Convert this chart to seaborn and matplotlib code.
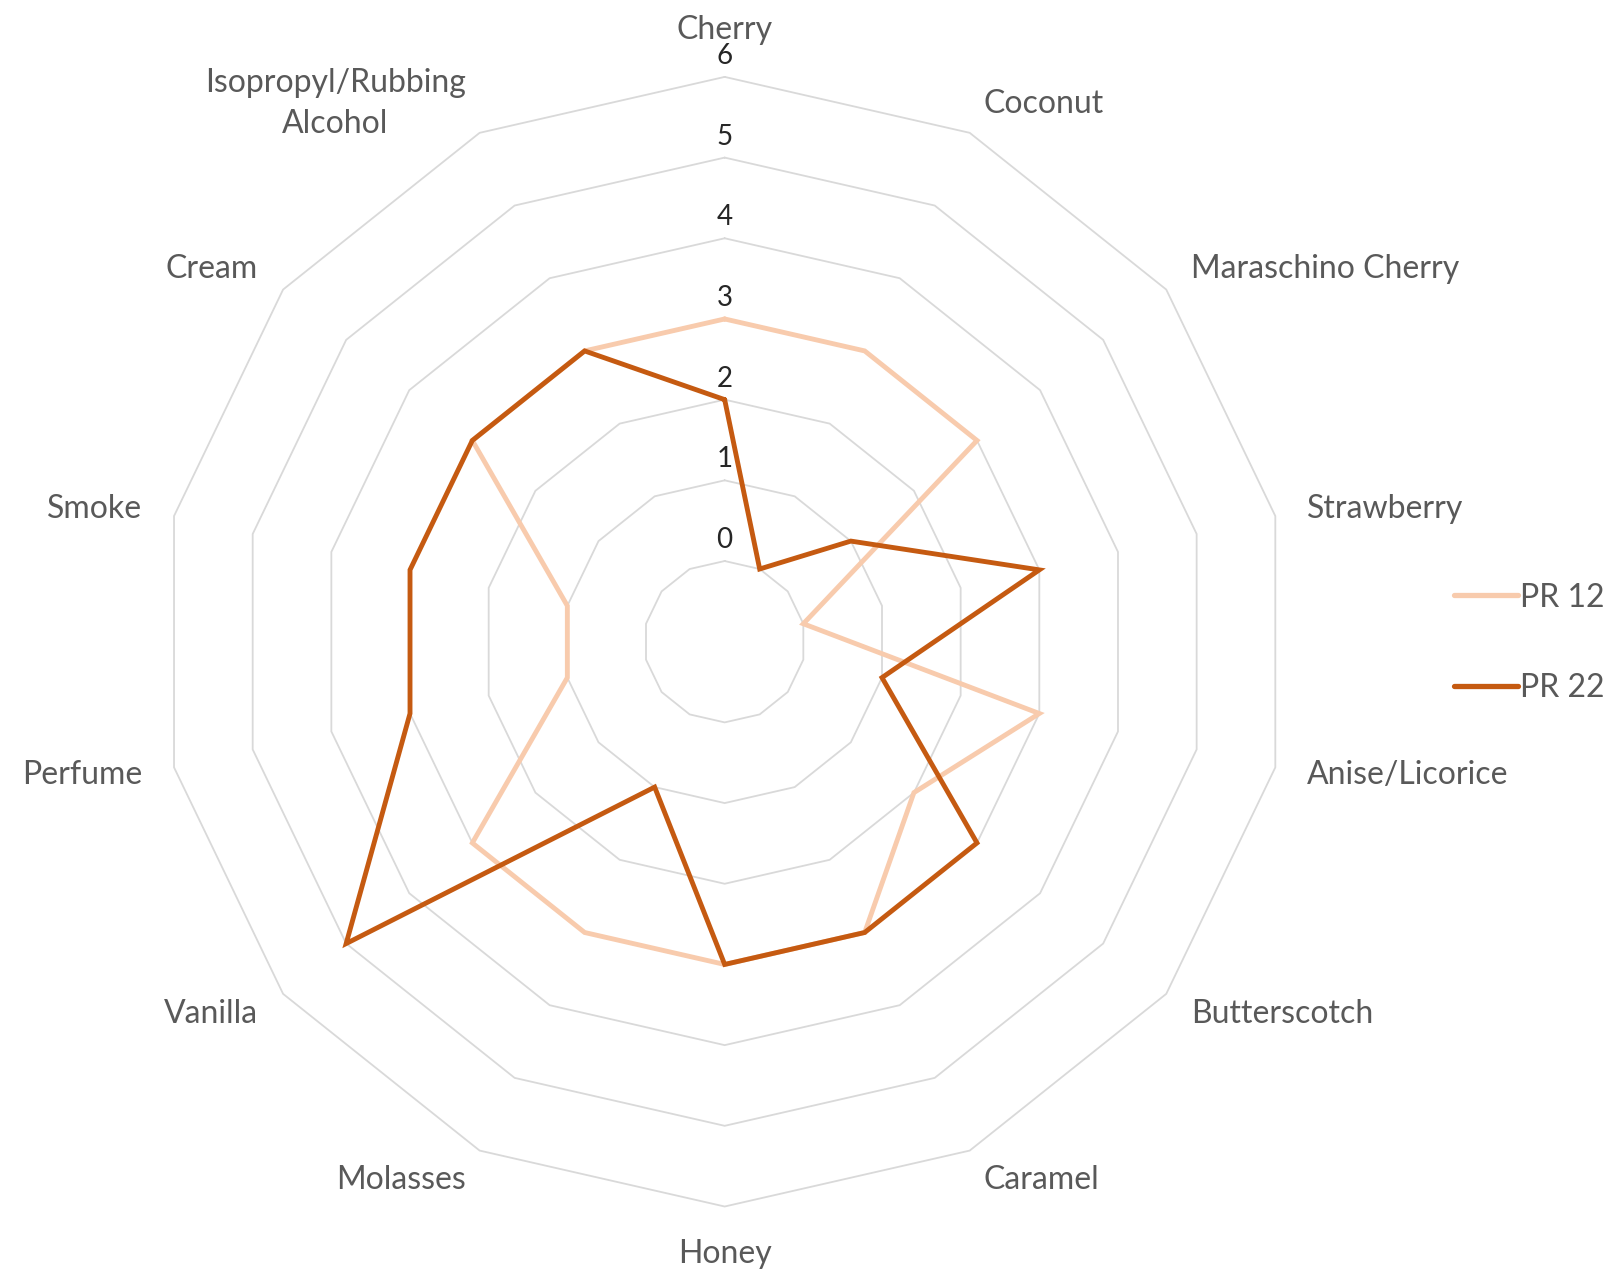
import numpy as np
import pandas as pd
import seaborn as sns
import matplotlib.pyplot as plt
from matplotlib.lines import Line2D

# Flavor profile data
categories = ["Cherry", "Coconut", "Maraschino Cherry", "Strawberry", "Anise/Licorice",
              "Butterscotch", "Caramel", "Honey", "Molasses", "Vanilla", "Perfume",
              "Smoke", "Cream", "Isopropyl/Rubbing\nAlcohol"]
pr12 = [3, 3, 3, 0, 3, 2, 3, 3, 3, 3, 1, 1, 3, 3]
pr22 = [2, 0, 1, 3, 1, 3, 3, 3, 1, 5, 3, 3, 3, 3]
series_names = ["PR 12", "PR 22"]
colors = ["#F8CBAD", "#C55A11"]
levels = [0, 1, 2, 3, 4, 5, 6]

sns.set_theme(style="white")
plt.rcParams['font.family'] = ['Lato', 'DejaVu Sans']

n = len(categories)
theta = np.linspace(0, 2 * np.pi, n, endpoint=False)
theta_closed = np.append(theta, theta[0])

# long table, each series closed back to its first point
rows = []
for name, vals in zip(series_names, [pr12, pr22]):
    vals_closed = list(vals) + [vals[0]]
    for i, (t, v) in enumerate(zip(theta_closed, vals_closed)):
        rows.append({"series": name, "order": i, "theta": t, "value": v})
df = pd.DataFrame(rows)

fig = plt.figure(figsize=(16.23, 12.75), dpi=100)
ax = fig.add_axes([0.0985, 0.0537, 0.696, 0.886], projection='polar')
ax.set_theta_zero_location('N')
ax.set_theta_direction(-1)
ax.set_ylim(-1, 6)
ax.grid(False)
ax.set_xticks([])
ax.set_yticks([])
ax.spines['polar'].set_visible(False)
ax.patch.set_visible(False)

# polygon gridlines
for lv in levels:
    ax.plot(theta_closed, [lv] * (n + 1), color="#D9D9D9", lw=1.3, zorder=1, clip_on=False)

sns.lineplot(data=df, x="theta", y="value", hue="series", palette=colors,
             sort=False, estimator=None, units="series", lw=3.5, legend=False,
             ax=ax, zorder=3)
for ln in ax.get_lines():
    ln.set_clip_on(False)
    ln.set_solid_joinstyle('miter')
ax.set_xlabel("")
ax.set_ylabel("")

# radial value labels
for lv in levels:
    ax.text(0, lv + 0.1, str(lv), ha='center', va='bottom', fontsize=20,
            color="#262626", zorder=4)

# category labels
r_lab = 6.4
for t, lab in zip(theta, categories):
    s = np.sin(t)
    c = np.cos(t)
    if s > 0.1:
        ha = 'left'
    elif s < -0.1:
        ha = 'right'
    else:
        ha = 'center'
    if abs(s) <= 0.1:
        va = 'bottom' if c > 0 else 'top'
    else:
        va = 'center'
    ax.text(t, r_lab, lab, ha=ha, va=va, fontsize=23, color="#595959",
            multialignment='center', linespacing=1.45)

handles = [Line2D([0], [0], color=c, lw=3.8, solid_capstyle='round') for c in colors]
fig.legend(handles, series_names, loc='center left', bbox_to_anchor=(0.896, 0.4957),
           frameon=False, fontsize=23, labelcolor="#595959", handlelength=2.0,
           handletextpad=0.05, labelspacing=1.9, borderpad=0, borderaxespad=0)

fig.savefig("out.png", dpi=100, facecolor="white")
